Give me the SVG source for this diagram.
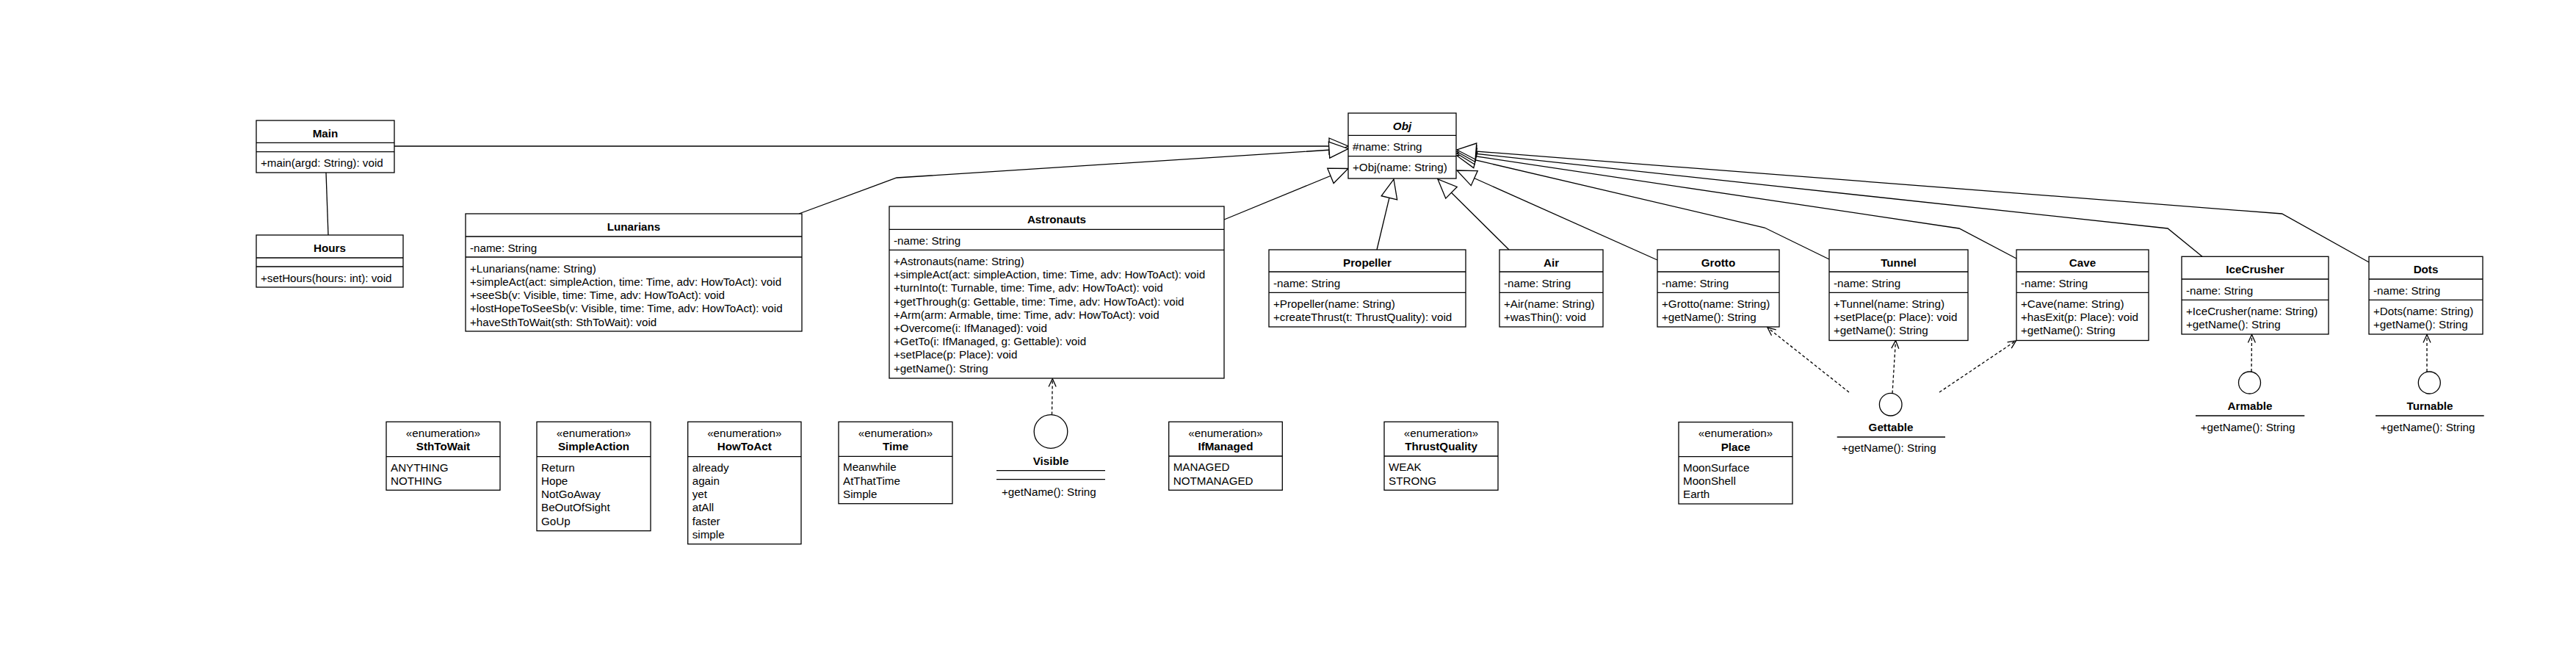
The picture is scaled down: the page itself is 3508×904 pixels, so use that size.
<svg xmlns="http://www.w3.org/2000/svg" width="3508" height="904" viewBox="0 0 3508 904">
<style>
text{font-family:"Liberation Sans",Arial,sans-serif;font-size:15.2px;fill:#000}
.t{font-weight:bold;text-anchor:middle}
.c{text-anchor:middle}
.it{font-style:italic}
.box{fill:#fff;stroke:#000;stroke-width:1.3}
.sep{stroke:#000;stroke-width:1.3;fill:none}
.edge{fill:none;stroke:#000;stroke-width:1.3}
.gen{marker-end:url(#gen)}
.dep{stroke-dasharray:4 3;marker-end:url(#open)}
</style>
<defs>
<marker id="gen" markerUnits="userSpaceOnUse" markerWidth="30" markerHeight="26" refX="27" refY="12" orient="auto" overflow="visible">
<path d="M1,1 L27,12 L1,23 Z" fill="#fff" stroke="#000" stroke-width="1.3" stroke-dasharray="none"/>
</marker>
<marker id="open" markerUnits="userSpaceOnUse" markerWidth="14" markerHeight="12" refX="12" refY="6" orient="auto" overflow="visible">
<path d="M1,1 L12,6 L1,11" fill="none" stroke="#000" stroke-width="1.3" stroke-dasharray="none"/>
</marker>
</defs>
<rect x="0" y="0" width="3508" height="904" fill="#fff"/>

<g id="connectors">
<path class="edge" d="M444,235 L447,320"/>
<path class="edge gen" d="M537,199 L1836,199"/>
<path class="edge gen" d="M1088,291 L1221,242 L1836,202.5"/>
<path class="edge gen" d="M1667,299 L1836,229.5"/>
<path class="edge gen" d="M1875,340 L1898,244"/>
<path class="edge gen" d="M2055,340 L1958,244"/>
<path class="edge gen" d="M2257,354 L1984,232"/>
<path class="edge gen" d="M2491,353 L2403,310 L1984,212"/>
<path class="edge gen" d="M2746,352 L2668,311 L1984,209"/>
<path class="edge gen" d="M2999,349.3 L2952,311 L1984,206.5"/>
<path class="edge gen" d="M3226,357 L3107.6,291 L1984,204"/>
<path class="edge dep" d="M1432.5,564.5 L1433.3,515.5"/>
<path class="edge dep" d="M2518,534 L2407,446"/>
<path class="edge dep" d="M2577,535.5 L2581.5,463.5"/>
<path class="edge dep" d="M2641,534 L2745.5,463.8"/>
<path class="edge dep" d="M3066,506 L3066.5,455.5"/>
<path class="edge dep" d="M3305,506 L3305,455.5"/>
</g>

<g id="Main">
<rect class="box" x="349" y="164" width="188" height="71"/>
<path class="sep" d="M349,194.3 H537 M349,206.7 H537"/>
<text class="t" x="443" y="186.7">Main</text>
<text x="355" y="227.4">+main(argd: String): void</text>
</g>

<g id="Hours">
<rect class="box" x="349" y="320" width="200" height="71"/>
<path class="sep" d="M349,351 H549 M349,363 H549"/>
<text class="t" x="449" y="342.7">Hours</text>
<text x="355" y="383.7">+setHours(hours: int): void</text>
</g>

<g id="Lunarians">
<rect class="box" x="634" y="291" width="458" height="160"/>
<path class="sep" d="M634,322 H1092 M634,350 H1092"/>
<text class="t" x="863" y="313.7">Lunarians</text>
<text x="640" y="342.7">-name: String</text>
<text x="640" y="370.7">+Lunarians(name: String)</text>
<text x="640" y="388.9">+simpleAct(act: simpleAction, time: Time, adv: HowToAct): void</text>
<text x="640" y="407.1">+seeSb(v: Visible, time: Time, adv: HowToAct): void</text>
<text x="640" y="425.3">+lostHopeToSeeSb(v: Visible, time: Time, adv: HowToAct): void</text>
<text x="640" y="443.5">+haveSthToWait(sth: SthToWait): void</text>
</g>

<g id="Astronauts">
<rect class="box" x="1211" y="281" width="456" height="234"/>
<path class="sep" d="M1211,312.3 H1667 M1211,340.3 H1667"/>
<text class="t" x="1439" y="303.7">Astronauts</text>
<text x="1217" y="333">-name: String</text>
<text x="1217" y="361">+Astronauts(name: String)</text>
<text x="1217" y="379.2">+simpleAct(act: simpleAction, time: Time, adv: HowToAct): void</text>
<text x="1217" y="397.4">+turnInto(t: Turnable, time: Time, adv: HowToAct): void</text>
<text x="1217" y="415.6">+getThrough(g: Gettable, time: Time, adv: HowToAct): void</text>
<text x="1217" y="433.8">+Arm(arm: Armable, time: Time, adv: HowToAct): void</text>
<text x="1217" y="452">+Overcome(i: IfManaged): void</text>
<text x="1217" y="470.2">+GetTo(i: IfManaged, g: Gettable): void</text>
<text x="1217" y="488.4">+setPlace(p: Place): void</text>
<text x="1217" y="506.6">+getName(): String</text>
</g>

<g id="Obj">
<rect class="box" x="1836" y="154" width="147" height="89"/>
<path class="sep" d="M1836,184.3 H1983 M1836,212.7 H1983"/>
<text class="t it" x="1909.5" y="176.7">Obj</text>
<text x="1842" y="205">#name: String</text>
<text x="1842" y="233.3">+Obj(name: String)</text>
</g>

<g id="Propeller">
<rect class="box" x="1728" y="340" width="268" height="105"/>
<path class="sep" d="M1728,370 H1996 M1728,398.3 H1996"/>
<text class="t" x="1862" y="362.7">Propeller</text>
<text x="1734" y="390.7">-name: String</text>
<text x="1734" y="419">+Propeller(name: String)</text>
<text x="1734" y="437.2">+createThrust(t: ThrustQuality): void</text>
</g>

<g id="Air">
<rect class="box" x="2042" y="340" width="141" height="105"/>
<path class="sep" d="M2042,370 H2183 M2042,398.3 H2183"/>
<text class="t" x="2112.5" y="362.7">Air</text>
<text x="2048" y="390.7">-name: String</text>
<text x="2048" y="419">+Air(name: String)</text>
<text x="2048" y="437.2">+wasThin(): void</text>
</g>

<g id="Grotto">
<rect class="box" x="2257" y="340" width="166" height="105"/>
<path class="sep" d="M2257,370 H2423 M2257,398.3 H2423"/>
<text class="t" x="2340" y="362.7">Grotto</text>
<text x="2263" y="390.7">-name: String</text>
<text x="2263" y="419">+Grotto(name: String)</text>
<text x="2263" y="437.2">+getName(): String</text>
</g>

<g id="Tunnel">
<rect class="box" x="2491" y="340" width="189" height="123.5"/>
<path class="sep" d="M2491,370 H2680 M2491,398.3 H2680"/>
<text class="t" x="2585.5" y="362.7">Tunnel</text>
<text x="2497" y="390.7">-name: String</text>
<text x="2497" y="419">+Tunnel(name: String)</text>
<text x="2497" y="437.2">+setPlace(p: Place): void</text>
<text x="2497" y="455.4">+getName(): String</text>
</g>

<g id="Cave">
<rect class="box" x="2746" y="340" width="180" height="123.5"/>
<path class="sep" d="M2746,370 H2926 M2746,398.3 H2926"/>
<text class="t" x="2836" y="362.7">Cave</text>
<text x="2752" y="390.7">-name: String</text>
<text x="2752" y="419">+Cave(name: String)</text>
<text x="2752" y="437.2">+hasExit(p: Place): void</text>
<text x="2752" y="455.4">+getName(): String</text>
</g>

<g id="IceCrusher">
<rect class="box" x="2971" y="349.3" width="200" height="105.7"/>
<path class="sep" d="M2971,380 H3171 M2971,408.3 H3171"/>
<text class="t" x="3071" y="372">IceCrusher</text>
<text x="2977" y="400.7">-name: String</text>
<text x="2977" y="429">+IceCrusher(name: String)</text>
<text x="2977" y="447.2">+getName(): String</text>
</g>

<g id="Dots">
<rect class="box" x="3226" y="349.3" width="155" height="105.7"/>
<path class="sep" d="M3226,380 H3381 M3226,408.3 H3381"/>
<text class="t" x="3303.5" y="372">Dots</text>
<text x="3232" y="400.7">-name: String</text>
<text x="3232" y="429">+Dots(name: String)</text>
<text x="3232" y="447.2">+getName(): String</text>
</g>

<g id="SthToWait">
<rect class="box" x="526" y="574.3" width="155" height="93"/>
<path class="sep" d="M526,621.7 H681"/>
<text class="c" x="603.5" y="595">«enumeration»</text>
<text class="t" x="603.5" y="613.3">SthToWait</text>
<text x="532" y="641.7">ANYTHING</text>
<text x="532" y="659.9">NOTHING</text>
</g>

<g id="SimpleAction">
<rect class="box" x="731" y="574.3" width="155" height="148.4"/>
<path class="sep" d="M731,621.7 H886"/>
<text class="c" x="808.5" y="595">«enumeration»</text>
<text class="t" x="808.5" y="613.3">SimpleAction</text>
<text x="737" y="641.7">Return</text>
<text x="737" y="659.9">Hope</text>
<text x="737" y="678.1">NotGoAway</text>
<text x="737" y="696.3">BeOutOfSight</text>
<text x="737" y="714.5">GoUp</text>
</g>

<g id="HowToAct">
<rect class="box" x="936.7" y="574.3" width="154.3" height="166.4"/>
<path class="sep" d="M936.7,621.7 H1091"/>
<text class="c" x="1013.8" y="595">«enumeration»</text>
<text class="t" x="1013.8" y="613.3">HowToAct</text>
<text x="942.7" y="641.7">already</text>
<text x="942.7" y="659.9">again</text>
<text x="942.7" y="678.1">yet</text>
<text x="942.7" y="696.3">atAll</text>
<text x="942.7" y="714.5">faster</text>
<text x="942.7" y="732.7">simple</text>
</g>

<g id="Time">
<rect class="box" x="1142" y="574.3" width="155" height="111.4"/>
<path class="sep" d="M1142,621.3 H1297"/>
<text class="c" x="1219.5" y="595">«enumeration»</text>
<text class="t" x="1219.5" y="613.3">Time</text>
<text x="1148" y="641.3">Meanwhile</text>
<text x="1148" y="659.5">AtThatTime</text>
<text x="1148" y="677.7">Simple</text>
</g>

<g id="Visible">
<circle class="box" cx="1431" cy="587.5" r="22.8"/>
<text class="t" x="1431" y="632.7">Visible</text>
<path class="sep" d="M1357,640.7 H1505 M1357,652.7 H1505"/>
<text x="1364" y="675">+getName(): String</text>
</g>

<g id="IfManaged">
<rect class="box" x="1591.7" y="574.3" width="154.6" height="93"/>
<path class="sep" d="M1591.7,621 H1746.3"/>
<text class="c" x="1669" y="595">«enumeration»</text>
<text class="t" x="1669" y="613.3">IfManaged</text>
<text x="1597.7" y="641.3">MANAGED</text>
<text x="1597.7" y="659.5">NOTMANAGED</text>
</g>

<g id="ThrustQuality">
<rect class="box" x="1885" y="574.3" width="155" height="93"/>
<path class="sep" d="M1885,621 H2040"/>
<text class="c" x="1962.5" y="595">«enumeration»</text>
<text class="t" x="1962.5" y="613.3">ThrustQuality</text>
<text x="1891" y="641.3">WEAK</text>
<text x="1891" y="659.5">STRONG</text>
</g>

<g id="Place">
<rect class="box" x="2286" y="574.7" width="155" height="111.3"/>
<path class="sep" d="M2286,621.7 H2441"/>
<text class="c" x="2363.5" y="595.3">«enumeration»</text>
<text class="t" x="2363.5" y="613.6">Place</text>
<text x="2292" y="641.7">MoonSurface</text>
<text x="2292" y="659.9">MoonShell</text>
<text x="2292" y="678.1">Earth</text>
</g>

<g id="Gettable">
<circle class="box" cx="2574.7" cy="550.7" r="15.3"/>
<text class="t" x="2575" y="587.3">Gettable</text>
<path class="sep" d="M2501.7,595 H2649"/>
<text x="2508" y="615.3">+getName(): String</text>
</g>

<g id="Armable">
<circle class="box" cx="3063.5" cy="521" r="15"/>
<text class="t" x="3064" y="558.3">Armable</text>
<path class="sep" d="M2990,566 H3138.3"/>
<text x="2996.7" y="586.7">+getName(): String</text>
</g>

<g id="Turnable">
<circle class="box" cx="3308.3" cy="521" r="15"/>
<text class="t" x="3309" y="558.3">Turnable</text>
<path class="sep" d="M3235,566 H3382.7"/>
<text x="3241.7" y="586.7">+getName(): String</text>
</g>
</svg>
